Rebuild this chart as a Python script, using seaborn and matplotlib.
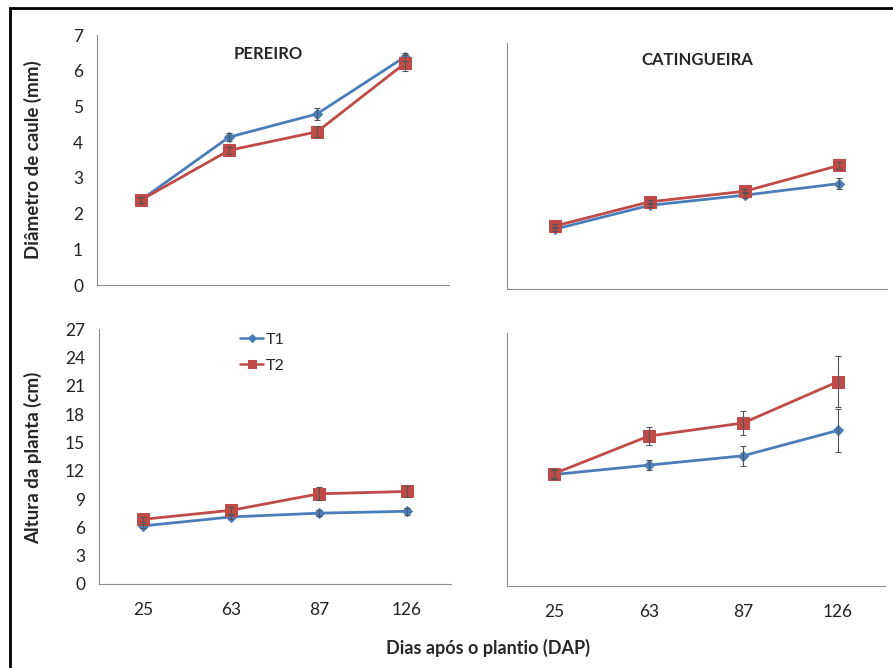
import numpy as np
import pandas as pd
import matplotlib
matplotlib.use("Agg")
import matplotlib.pyplot as plt
import seaborn as sns
from matplotlib.patches import Rectangle

# data
dap = ["25", "63", "87", "126"]

pereiro_diam_t1 = [2.38, 4.14, 4.79, 6.39]
pereiro_diam_t2 = [2.38, 3.77, 4.29, 6.21]
pereiro_diam_t1_err = [0.08, 0.12, 0.17, 0.12]
pereiro_diam_t2_err = [0.08, 0.10, 0.15, 0.22]

catingueira_diam_t1 = [1.70, 2.38, 2.67, 3.00]
catingueira_diam_t2 = [1.79, 2.48, 2.78, 3.52]
catingueira_diam_t1_err = [0.06, 0.06, 0.08, 0.15]
catingueira_diam_t2_err = [0.06, 0.06, 0.06, 0.10]

pereiro_alt_t1 = [6.15, 7.1, 7.5, 7.7]
pereiro_alt_t2 = [6.85, 7.8, 9.55, 9.8]
pereiro_alt_t1_err = [0.25, 0.25, 0.35, 0.4]
pereiro_alt_t2_err = [0.25, 0.4, 0.7, 0.6]

catingueira_alt_t1 = [11.9, 12.9, 13.9, 16.6]
catingueira_alt_t2 = [12.0, 16.0, 17.4, 21.8]
catingueira_alt_t1_err = [0.5, 0.5, 1.05, 2.3]
catingueira_alt_t2_err = [0.5, 1.0, 1.25, 2.75]

treatments = ["T1", "T2"]
colors = {"T1": "#4A7EBB", "T2": "#BE4B48"}
markers = {"T1": "D", "T2": "s"}
msizes = {"T1": 5, "T2": 8}

sns.set_style("white")
plt.rcParams["font.family"] = ["Lato", "DejaVu Sans"]

fig = plt.figure(figsize=(8.93, 6.68), dpi=100)
W, H = 893, 668


def px_axes(x0, y0, x1, y1):
    return fig.add_axes([x0 / W, 1 - y1 / H, (x1 - x0) / W, (y1 - y0) / H])


ax_tl = px_axes(97, 35, 449, 285)
ax_tr = px_axes(507, 43, 887, 289)
ax_bl = px_axes(99, 329, 451, 584)
ax_br = px_axes(507, 333, 885, 586)

panels = [
    (ax_tl, pereiro_diam_t1, pereiro_diam_t2, pereiro_diam_t1_err, pereiro_diam_t2_err, 7, 1),
    (ax_tr, catingueira_diam_t1, catingueira_diam_t2, catingueira_diam_t1_err, catingueira_diam_t2_err, 7, 1),
    (ax_bl, pereiro_alt_t1, pereiro_alt_t2, pereiro_alt_t1_err, pereiro_alt_t2_err, 27, 3),
    (ax_br, catingueira_alt_t1, catingueira_alt_t2, catingueira_alt_t1_err, catingueira_alt_t2_err, 27, 3),
]

xpos = np.arange(len(dap))
axis_grey = "#8c8c8c"

for i, (ax, t1, t2, e1, e2, ymax, step) in enumerate(panels):
    df = pd.DataFrame({
        "x": np.concatenate([xpos, xpos]),
        "y": t1 + t2,
        "err": e1 + e2,
        "trat": ["T1"] * len(dap) + ["T2"] * len(dap),
    })
    for trat in treatments:
        sub = df[df["trat"] == trat]
        sns.lineplot(data=sub, x="x", y="y", ax=ax, color=colors[trat],
                     marker=markers[trat], markersize=msizes[trat],
                     markeredgecolor=colors[trat], linewidth=2, label=trat,
                     legend=False, zorder=3)
        ax.errorbar(sub["x"], sub["y"], yerr=sub["err"], fmt="none",
                    ecolor="#555555", elinewidth=0.8, capsize=2.5, capthick=0.8, zorder=4)

    ax.set_xlim(-0.5, len(dap) - 0.5)
    ax.set_ylim(0, ymax)
    ax.set_yticks(np.arange(0, ymax + 0.1, step))
    ax.set_xticks(np.arange(-0.5, len(dap), 1))
    ax.set_xticklabels([])
    ax.set_xticks(xpos, minor=True)
    if i >= 2:
        ax.set_xticklabels(dap, minor=True)
    ax.tick_params(axis="x", which="minor", length=0, pad=13, labelsize=12.5, colors="#222222")
    ax.tick_params(axis="x", which="major", length=5, width=0.8, color=axis_grey, direction="out")
    ax.tick_params(axis="y", length=4, width=0.8, color=axis_grey, direction="out",
                   labelsize=12.5, labelcolor="#222222", pad=6)
    if i in (1, 3):
        ax.set_yticklabels([])
    for s in ["top", "right"]:
        ax.spines[s].set_visible(False)
    for s in ["left", "bottom"]:
        ax.spines[s].set_color(axis_grey)
        ax.spines[s].set_linewidth(0.8)
    ax.set_xlabel("")
    ax.set_ylabel("")
    ax.patch.set_alpha(0)

# panel titles
fig.text(268 / W, 1 - 54 / H, "PEREIRO", ha="center", va="center", fontsize=12, fontweight="bold")
fig.text(697 / W, 1 - 60 / H, "CATINGUEIRA", ha="center", va="center", fontsize=12, fontweight="bold")

# axis titles
fig.text(33 / W, 1 - 160 / H, "Diâmetro de caule (mm)", rotation=90, ha="center", va="center",
         fontsize=13.5, fontweight="bold")
fig.text(33 / W, 1 - 458 / H, "Altura da planta (cm)", rotation=90, ha="center", va="center",
         fontsize=13.5, fontweight="bold")
fig.text(488 / W, 1 - 648 / H, "Dias após o plantio (DAP)", ha="center", va="center",
         fontsize=13, fontweight="bold")

# legend
handles, labels = ax_bl.get_legend_handles_labels()
leg = fig.legend(handles, labels, loc="upper left", bbox_to_anchor=(234 / W, 1 - 326 / H),
                 frameon=False, fontsize=11.5, handlelength=1.4, handletextpad=0.2,
                 labelspacing=0.75, borderaxespad=0)
for h in leg.legend_handles:
    h.set_linewidth(1.8)
    h.set_markersize(h.get_markersize() * 0.8)

# outer frame (left and top visible only)
fig.add_artist(Rectangle((10 / W, -0.1), 1.2, 1.1 - 8 / H, transform=fig.transFigure,
                         fill=False, edgecolor="black", linewidth=2, clip_on=False))

fig.savefig("out.png", dpi=100, facecolor="white")
